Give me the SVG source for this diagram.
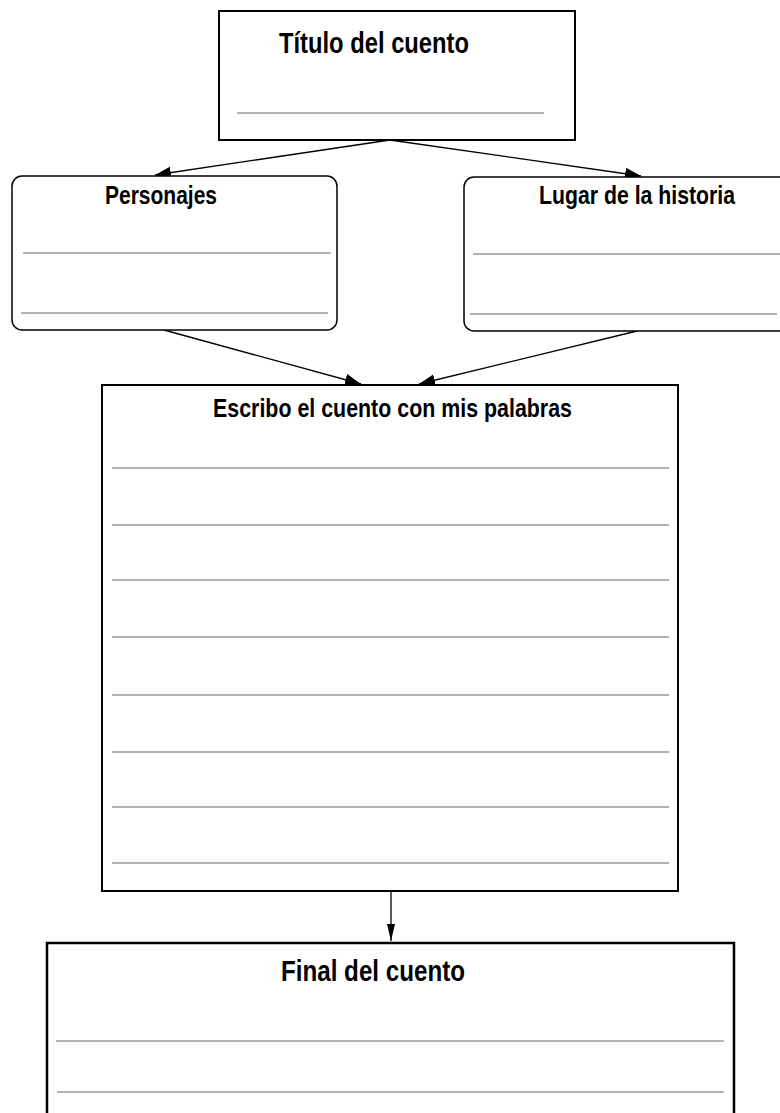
<svg xmlns="http://www.w3.org/2000/svg" width="780" height="1113" viewBox="0 0 780 1113">
<style>
.box{fill:#fff;stroke:#000;stroke-width:2}
.rbox{fill:#fff;stroke:#000;stroke-width:1.5}
.ln{stroke:#999;stroke-width:1.5;fill:none}
.lbl{font-family:"Liberation Sans",Arial,sans-serif;font-weight:bold;fill:#000}
.con{stroke:#000;stroke-width:1.3;fill:none}
</style>
<defs>
<marker id="ah" markerUnits="userSpaceOnUse" markerWidth="18" markerHeight="14" refX="16" refY="7" orient="auto">
<path d="M0,1 L16,7 L0,13 Z" fill="#000"/>
</marker>
<marker id="ah2" markerUnits="userSpaceOnUse" markerWidth="18" markerHeight="10" refX="17" refY="5" orient="auto">
<path d="M0,1 L17,5 L0,9 Z" fill="#000"/>
</marker>
</defs>
<g id="connectors">
<line class="con" x1="390" y1="140" x2="155" y2="175" marker-end="url(#ah)"/>
<line class="con" x1="390" y1="140" x2="641" y2="176" marker-end="url(#ah)"/>
<line class="con" x1="164" y1="330" x2="361" y2="384" marker-end="url(#ah)"/>
<line class="con" x1="637" y1="331" x2="419" y2="384" marker-end="url(#ah)"/>
<line class="con" x1="391" y1="892" x2="391" y2="941" marker-end="url(#ah2)"/>
</g>
<g id="titulo">
<rect class="box" x="219" y="11" width="356" height="129"/>
<text class="lbl" x="279" y="53" font-size="29.5" textLength="190" lengthAdjust="spacingAndGlyphs">Título del cuento</text>
<line class="ln" x1="237" y1="113" x2="544" y2="113"/>
</g>
<g id="personajes">
<rect class="rbox" x="12" y="176" width="325" height="154" rx="10" ry="10"/>
<text class="lbl" x="105" y="204" font-size="25.5" textLength="112" lengthAdjust="spacingAndGlyphs">Personajes</text>
<line class="ln" x1="23" y1="253" x2="331" y2="253"/>
<line class="ln" x1="21" y1="313" x2="328" y2="313"/>
</g>
<g id="lugar">
<rect class="rbox" x="464" y="177" width="330" height="154" rx="10" ry="10"/>
<text class="lbl" x="539" y="204" font-size="26" textLength="196" lengthAdjust="spacingAndGlyphs">Lugar de la historia</text>
<line class="ln" x1="473" y1="254" x2="790" y2="254"/>
<line class="ln" x1="470" y1="314" x2="777" y2="314"/>
</g>
<g id="escribo">
<rect class="box" x="102" y="385" width="576" height="506"/>
<text class="lbl" x="213" y="417" font-size="26" textLength="359" lengthAdjust="spacingAndGlyphs">Escribo el cuento con mis palabras</text>
<line class="ln" x1="112" y1="468" x2="669" y2="468"/>
<line class="ln" x1="112" y1="525" x2="669" y2="525"/>
<line class="ln" x1="112" y1="580" x2="669" y2="580"/>
<line class="ln" x1="112" y1="637" x2="669" y2="637"/>
<line class="ln" x1="112" y1="695" x2="669" y2="695"/>
<line class="ln" x1="112" y1="752" x2="669" y2="752"/>
<line class="ln" x1="112" y1="807" x2="669" y2="807"/>
<line class="ln" x1="112" y1="863" x2="669" y2="863"/>
</g>
<g id="final">
<rect x="47" y="943" width="687" height="190" fill="#fff" stroke="#000" stroke-width="2.5"/>
<text class="lbl" x="281" y="981" font-size="29.5" textLength="184" lengthAdjust="spacingAndGlyphs">Final del cuento</text>
<line class="ln" x1="56" y1="1041" x2="724" y2="1041"/>
<line class="ln" x1="57" y1="1092" x2="724" y2="1092"/>
</g>
</svg>
